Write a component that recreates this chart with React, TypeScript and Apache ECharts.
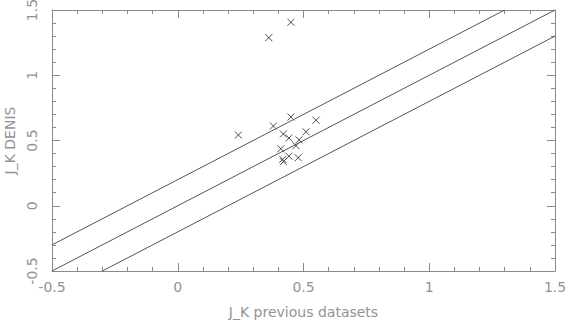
import React, { useEffect, useRef } from "react";
import * as echarts from "echarts";

const xValues = [0.241, 0.380, 0.450, 0.550, 0.420, 0.442, 0.510, 0.482, 0.470, 0.410, 0.442, 0.479, 0.417, 0.420, 0.450, 0.362];
const yValues = [0.542, 0.611, 0.680, 0.655, 0.550, 0.519, 0.567, 0.505, 0.460, 0.437, 0.380, 0.368, 0.356, 0.338, 1.406, 1.288];
const lineOffsets = [0.2, 0, -0.2];
const axisMin = -0.5;
const axisMax = 1.5;
const tickLabels = ["-0.5", "0", "0.5", "1", "1.5"];

export default function App() {
  const ref = useRef<HTMLDivElement>(null);
  useEffect(() => {
    if (!ref.current) return;
    const chart = echarts.init(ref.current, null, { renderer: "svg" });
    const textColor = "#939393";
    const axisColor = "#8a8a8a";
    const fmt = (v: number) => {
      const s = String(Math.round(v * 10) / 10);
      return tickLabels.includes(s) ? s : "";
    };
    const baseAxis = (show: boolean) => ({
      type: "value" as const,
      min: axisMin,
      max: axisMax,
      interval: 0.5,
      axisLine: { show: true, onZero: false, lineStyle: { color: axisColor, width: 1 } },
      axisTick: { show: true, inside: true, length: 8, lineStyle: { color: axisColor } },
      minorTick: { show: true, splitNumber: 5, length: 4, lineStyle: { color: axisColor } },
      splitLine: { show: false },
      axisLabel: { show, color: textColor, fontSize: 14, fontFamily: "DejaVu Sans", formatter: fmt },
    });
    const lineSeries = lineOffsets.map((o) => {
      const x0 = Math.max(axisMin, axisMin - o);
      const x1 = Math.min(axisMax, axisMax - o);
      return {
        type: "line" as const,
        data: [[x0, x0 + o], [x1, x1 + o]],
        symbol: "none",
        lineStyle: { color: "#555", width: 1 },
        silent: true,
      };
    });
    const nameStyle = { color: textColor, fontSize: 14, fontFamily: "DejaVu Sans" };
    chart.setOption({
      animation: false,
      backgroundColor: "#fff",
      grid: { left: 52, right: 13, top: 10, bottom: 49, containLabel: false, outerBoundsMode: "none" },
      xAxis: [
        {
          ...baseAxis(true),
          position: "bottom",
          name: "J_K previous datasets",
          nameLocation: "middle",
          nameGap: 34,
          nameMoveOverlap: false,
          nameTextStyle: nameStyle,
          axisLabel: { ...baseAxis(true).axisLabel, margin: 9 },
        },
        { ...baseAxis(false), position: "top" },
      ],
      yAxis: [
        {
          ...baseAxis(true),
          position: "left",
          name: "J_K DENIS",
          nameLocation: "middle",
          nameGap: 35,
          nameMoveOverlap: false,
          nameTextStyle: nameStyle,
          axisLabel: { ...baseAxis(true).axisLabel, rotate: 90, margin: 13 },
        },
        { ...baseAxis(false), position: "right" },
      ],
      series: [
        ...lineSeries,
        {
          type: "scatter",
          data: xValues.map((x, i) => [x, yValues[i]]),
          symbol: "path://M0,0L10,10M10,0L0,10",
          symbolSize: 7,
          itemStyle: { color: "none", borderColor: "#222", borderWidth: 1 },
          silent: true,
        },
      ],
    });
    return () => chart.dispose();
  }, []);
  return <div ref={ref} style={{ width: 568, height: 320, position: "absolute", left: 0, top: 0 }} />;
}
